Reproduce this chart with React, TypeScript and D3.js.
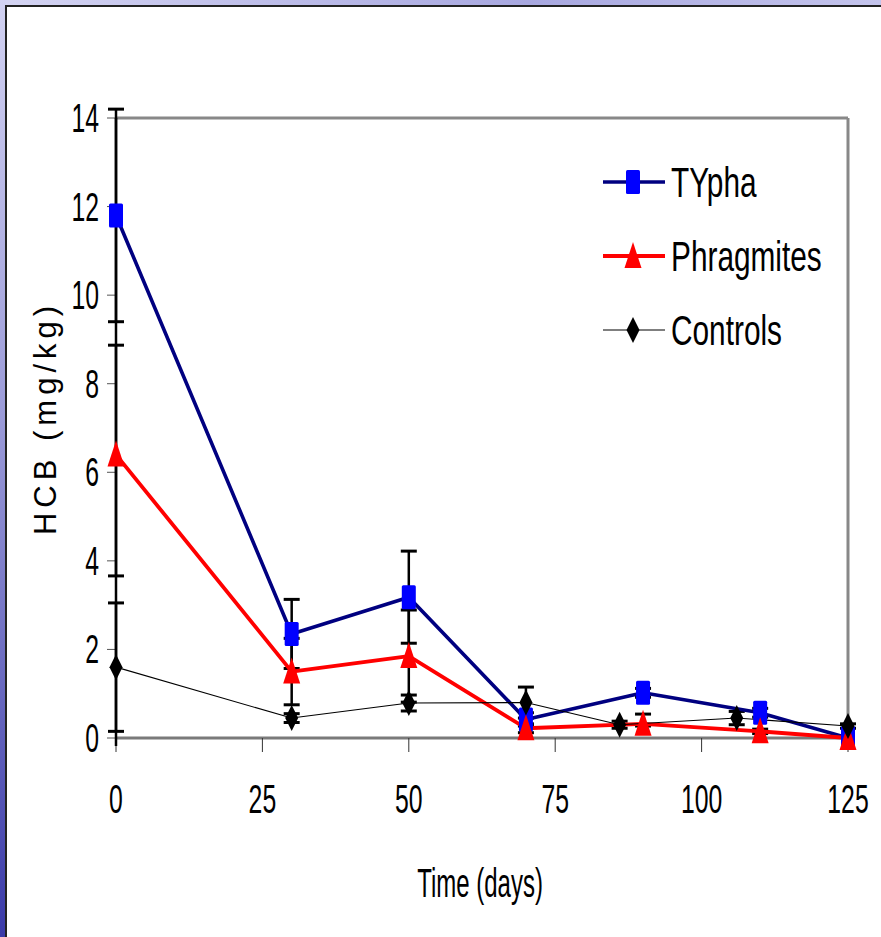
import React from 'react';
import * as d3 from 'd3';

// days sampled
const days = [0, 30, 50, 70, 90, 110, 125];
const controlDays = [0, 30, 50, 70, 86, 106, 125];

// HCB (mg/kg)
const typha = [11.8, 2.35, 3.18, 0.42, 1.02, 0.57, 0];
const typhaErrHi = [2.4, 0.78, 1.04, 0.15, 0.1, 0.1, 0];
const typhaErrLo = [2.4, 0.78, 1.04, 0.15, 0.1, 0.1, 0];

const phragmites = [6.4, 1.5, 1.85, 0.22, 0.32, 0.15, 0];
const phragErrHi = [2.47, 0.75, 1.04, 0.1, 0.22, 0.05, 0];
const phragErrLo = [2.74, 0.75, 1.04, 0.1, 0.05, 0.05, 0];

const controls = [1.6, 0.45, 0.79, 0.8, 0.3, 0.45, 0.27];
const controlErr = [1.45, 0.1, 0.18, 0.35, 0.08, 0.15, 0.05];

const xTicks = [0, 25, 50, 75, 100, 125];
const yTicks = [0, 2, 4, 6, 8, 10, 12, 14];
const legendNames = ['TYpha', 'Phragmites', 'Controls'];

const W = 881;
const H = 937;
const FONT = '"Liberation Sans", Arial, sans-serif';

const x = d3.scaleLinear().domain([0, 125]).range([116, 848]);
const y = d3.scaleLinear().domain([0, 14]).range([738, 118]);

type Marker = 'square' | 'triangle' | 'diamond';

const series = [
  { name: legendNames[0], xs: days, ys: typha, hi: typhaErrHi, lo: typhaErrLo, line: '#000080', width: 3.6, marker: 'square' as Marker, fill: '#0000ff' },
  { name: legendNames[1], xs: days, ys: phragmites, hi: phragErrHi, lo: phragErrLo, line: '#ff0000', width: 3.8, marker: 'triangle' as Marker, fill: '#ff0000' },
  { name: legendNames[2], xs: controlDays, ys: controls, hi: controlErr, lo: controlErr, line: '#000000', width: 1.1, marker: 'diamond' as Marker, fill: '#000000' },
];

function MarkerShape({ kind, cx, cy, fill }: { kind: Marker; cx: number; cy: number; fill: string }) {
  if (kind === 'square') {
    return <rect x={cx - 7} y={cy - 12} width={14} height={24} rx={1.5} fill={fill} />;
  }
  if (kind === 'triangle') {
    return <path d={`M${cx},${cy - 14}L${cx + 8.5},${cy + 12}L${cx - 8.5},${cy + 12}Z`} fill={fill} />;
  }
  return <path d={`M${cx},${cy - 13}L${cx + 6.5},${cy}L${cx},${cy + 13}L${cx - 6.5},${cy}Z`} fill={fill} />;
}

export default function App() {
  const line = d3.line<[number, number]>().x(d => x(d[0])).y(d => y(d[1]));

  return (
    <svg width={W} height={H} style={{ position: 'absolute', left: 0, top: 0, display: 'block' }} fontFamily={FONT}>
      <defs>
        <linearGradient id="leftBg" x1="0" y1="0" x2="0" y2="1">
          <stop offset="0" stopColor="#d2d2f2" />
          <stop offset="0.45" stopColor="#9a9ad8" />
          <stop offset="1" stopColor="#3a3aa8" />
        </linearGradient>
        <linearGradient id="topBg" x1="0" y1="0" x2="1" y2="0">
          <stop offset="0" stopColor="#d4d4f2" />
          <stop offset="0.6" stopColor="#a8a8e0" />
          <stop offset="1" stopColor="#c4c4ec" />
        </linearGradient>
      </defs>

      {/* slide background + white panel */}
      <rect x={0} y={0} width={W} height={H} fill="#ffffff" />
      <rect x={0} y={0} width={W} height={6} fill="url(#topBg)" />
      <rect x={0} y={0} width={6} height={H} fill="url(#leftBg)" />
      <line x1={5} y1={6} x2={W} y2={6} stroke="#222" strokeWidth={2} />
      <line x1={6} y1={5} x2={6} y2={H} stroke="#222" strokeWidth={2} />

      {/* plot frame */}
      <line x1={x(0)} y1={y(14)} x2={x(125)} y2={y(14)} stroke="#888" strokeWidth={3} />
      <line x1={x(125)} y1={y(14)} x2={x(125)} y2={y(0)} stroke="#888" strokeWidth={3} />
      <line x1={x(0)} y1={y(0)} x2={x(125)} y2={y(0)} stroke="#7a7a7a" strokeWidth={3} />

      {/* x ticks */}
      {xTicks.map(t => (
        <g key={'xt' + t}>
          <line x1={x(t)} y1={y(0)} x2={x(t)} y2={y(0) + 14} stroke="#333" strokeWidth={1} />
          <text transform={`translate(${x(t)},813) scale(0.62,1)`} textAnchor="middle" fontSize={40} fill="#000">{t}</text>
        </g>
      ))}

      {/* y ticks */}
      {yTicks.map(t => (
        <g key={'yt' + t}>
          <line x1={x(0) - 9} y1={y(t)} x2={x(0)} y2={y(t)} stroke="#555" strokeWidth={1} />
          <text transform={`translate(99,${y(t) + 14}) scale(0.62,1)`} textAnchor="end" fontSize={40} fill="#000">{t}</text>
        </g>
      ))}

      {/* y axis */}
      <line x1={x(0)} y1={y(14)} x2={x(0)} y2={y(0) + 8} stroke="#000" strokeWidth={2.5} />

      {/* error bars */}
      {series.map(s => s.xs.map((d, i) => {
        const top = y(s.ys[i] + s.hi[i]);
        const bot = y(Math.max(0, s.ys[i] - s.lo[i]));
        if (s.hi[i] === 0 && s.lo[i] === 0) return null;
        return (
          <g key={s.name + 'e' + i} stroke="#000">
            <line x1={x(d)} y1={top} x2={x(d)} y2={bot} strokeWidth={2.5} />
            <line x1={x(d) - 8} y1={top} x2={x(d) + 8} y2={top} strokeWidth={3} />
            <line x1={x(d) - 8} y1={bot} x2={x(d) + 8} y2={bot} strokeWidth={3} />
          </g>
        );
      }))}

      {/* series lines */}
      {series.map(s => (
        <path key={s.name + 'l'} d={line(s.xs.map((d, i) => [d, s.ys[i]] as [number, number])) || ''}
          fill="none" stroke={s.line} strokeWidth={s.width} strokeLinejoin="round" />
      ))}

      {/* markers */}
      {series.map(s => s.xs.map((d, i) => (
        <MarkerShape key={s.name + 'm' + i} kind={s.marker} cx={x(d)} cy={y(s.ys[i])} fill={s.fill} />
      )))}

      {/* legend */}
      {series.map((s, i) => {
        const ly = 182 + i * 74;
        return (
          <g key={s.name + 'leg'}>
            <line x1={603} y1={ly} x2={665} y2={ly} stroke={s.line} strokeWidth={s.width} />
            <MarkerShape kind={s.marker} cx={633} cy={ly} fill={s.fill} />
            <text transform={`translate(671,${ly + 15}) scale(0.71,1)`} fontSize={42} fill="#000">{s.name}</text>
          </g>
        );
      })}

      {/* axis titles */}
      <text transform="translate(480,897) scale(0.6,1)" textAnchor="middle" fontSize={40} fill="#000">Time (days)</text>
      <text transform="translate(56,418) rotate(-90)" textAnchor="middle" fontSize={31} letterSpacing={5} fill="#000">HCB (mg/kg)</text>
    </svg>
  );
}
